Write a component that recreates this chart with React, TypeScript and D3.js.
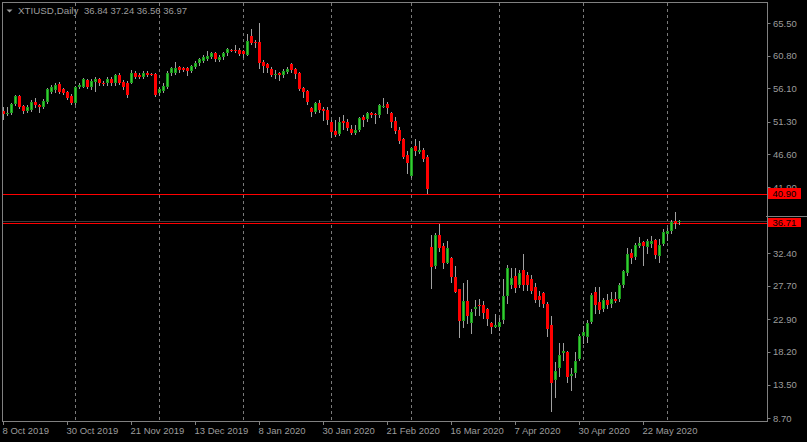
import React from 'react';
import * as d3 from 'd3';

const opens = [52.85,52.37,52.60,53.85,55.01,53.57,52.89,52.99,54.14,53.71,53.38,54.19,55.58,55.87,56.73,55.97,55.58,55.01,53.96,56.34,56.34,57.31,56.26,57.06,57.41,56.92,56.83,57.49,56.83,58.07,57.06,56.90,56.92,58.27,57.98,57.78,58.31,58.17,58.17,55.39,55.77,56.26,58.27,58.36,59.13,58.99,58.99,58.64,59.22,59.71,60.08,60.37,60.66,61.14,60.18,60.57,61.14,61.62,61.62,61.62,61.52,60.90,63.63,62.77,62.77,59.94,59.61,58.84,58.10,58.36,58.02,58.46,59.61,58.84,58.36,56.16,55.72,53.32,52.75,53.96,53.14,52.99,51.31,49.97,49.54,51.41,51.22,50.26,49.64,50.12,52.03,51.65,52.52,52.42,52.23,53.47,53.85,52.60,51.41,50.12,48.82,46.52,43.54,47.81,47.00,47.24,46.23,33.25,30.60,35.02,33.43,31.03,31.75,28.93,27.25,22.69,25.52,22.40,24.33,24.91,24.95,24.33,22.32,21.83,21.74,22.79,26.29,27.83,29.12,27.83,29.98,29.26,28.65,27.58,26.25,26.72,25.09,22.08,14.17,15.93,18.09,18.19,14.74,15.21,17.18,20.49,20.39,22.55,26.86,25.43,24.33,25.67,25.09,25.81,25.81,27.83,29.50,32.38,31.81,33.43,34.05,33.33,33.72,34.30,32.00,33.72,35.16,35.59,37.03,36.84];
const highs = [53.38,53.38,54.04,55.15,55.15,53.71,53.67,54.43,54.67,53.85,54.53,56.11,56.59,56.92,57.06,56.11,55.77,55.29,56.44,56.83,57.55,57.49,57.41,57.69,57.59,57.12,57.78,57.69,58.17,58.27,57.31,57.10,58.74,58.64,58.36,58.56,58.64,58.27,58.27,56.26,56.83,58.64,59.22,59.94,59.32,59.22,59.22,59.46,60.04,60.51,60.86,61.52,61.37,61.33,60.90,61.37,61.91,61.81,62.30,61.86,61.62,63.92,64.64,63.06,65.54,60.18,59.79,59.22,58.74,58.50,58.84,59.13,59.79,58.99,58.50,56.34,55.87,53.47,54.14,54.43,53.47,53.38,51.55,51.55,51.94,52.27,51.65,50.83,50.83,52.03,52.27,52.70,52.75,52.52,53.85,54.76,54.19,52.75,52.03,50.59,48.92,47.14,47.71,48.82,48.53,47.48,46.52,35.02,35.35,36.60,33.91,34.15,31.90,30.56,27.25,28.16,28.55,24.33,25.67,25.77,25.52,24.48,22.55,23.66,23.04,28.65,30.70,30.31,30.23,29.98,32.28,29.74,29.26,28.07,27.01,26.86,25.43,23.37,16.80,19.53,19.44,18.38,15.85,18.24,20.78,21.93,22.79,26.63,27.49,27.49,25.91,26.49,26.78,26.82,28.16,29.98,33.10,32.96,33.91,34.77,34.20,34.40,34.87,34.40,34.40,35.84,35.98,37.17,38.28,37.24];
const lows = [51.74,52.27,52.41,53.67,53.24,52.52,52.70,52.85,53.47,52.75,53.24,53.96,55.39,55.62,55.48,55.29,54.53,53.85,53.85,56.11,56.26,56.11,55.97,55.77,56.54,56.54,56.63,56.54,56.63,56.73,56.01,54.86,56.83,57.55,57.59,57.59,57.88,57.98,55.01,55.19,55.58,56.11,58.02,58.17,58.50,58.56,58.02,58.46,59.03,59.50,59.89,60.18,60.47,60.08,59.99,60.37,60.94,61.43,61.33,60.86,60.66,60.90,62.44,62.01,58.99,58.50,58.50,57.88,57.55,57.31,57.69,58.27,58.50,57.55,55.87,54.82,53.85,52.13,52.52,52.75,51.55,50.98,49.15,49.25,49.40,50.22,50.12,49.54,49.54,50.02,50.69,51.45,52.03,51.17,52.03,53.38,52.60,50.50,49.73,48.29,46.05,43.89,43.40,46.52,46.76,45.70,41.10,27.44,30.31,32.76,30.31,30.95,28.30,26.86,20.39,21.74,22.40,20.88,23.51,23.51,23.04,22.08,20.88,21.74,21.36,22.40,25.28,27.35,26.86,27.58,27.11,27.11,26.63,25.43,24.81,24.62,20.54,9.75,11.68,14.74,17.04,13.92,12.73,14.64,17.04,19.53,19.67,22.32,23.84,23.76,24.13,24.48,24.71,25.38,25.52,27.49,29.26,30.95,31.52,33.33,30.70,32.38,33.33,31.75,31.18,33.58,34.30,35.35,35.98,36.56];
const closes = [52.46,52.52,53.85,55.01,53.47,52.85,53.47,54.19,53.71,53.47,54.33,55.97,56.26,56.63,55.62,55.48,54.67,53.96,56.26,56.59,57.41,56.34,57.21,57.49,56.92,56.73,57.49,56.92,58.07,56.92,56.30,55.15,58.36,57.78,57.78,58.36,58.07,58.07,55.15,55.97,56.44,58.36,58.99,59.07,58.74,58.74,58.60,59.32,59.79,60.28,60.57,60.76,61.14,60.28,60.66,61.14,61.72,61.52,61.52,61.00,61.00,62.91,62.58,62.58,59.71,59.32,58.99,58.02,58.17,58.02,58.64,58.93,58.74,58.17,56.01,55.58,54.19,52.75,53.96,52.99,52.89,51.55,49.87,49.40,51.31,51.08,50.36,49.73,50.12,51.88,51.55,52.52,52.23,52.27,53.71,53.61,53.28,51.31,50.02,48.58,46.28,45.33,47.57,47.14,47.24,45.94,41.63,30.46,35.02,33.19,31.03,33.19,29.02,26.86,22.69,25.52,23.41,23.90,24.71,24.81,23.76,22.94,21.74,22.08,22.55,26.25,30.31,28.79,27.44,29.59,27.83,27.83,26.97,25.67,25.67,25.09,21.45,13.78,15.46,17.76,18.33,14.56,15.03,16.90,20.49,21.07,22.32,26.39,24.95,24.23,25.67,24.95,25.81,25.57,27.83,29.84,32.28,31.75,33.58,33.91,33.43,34.20,34.20,32.14,33.58,35.49,35.59,36.93,36.70,36.97];

const dateLabels = ["8 Oct 2019", "30 Oct 2019", "21 Nov 2019", "13 Dec 2019", "8 Jan 2020", "30 Jan 2020", "21 Feb 2020", "16 Mar 2020", "7 Apr 2020", "30 Apr 2020", "22 May 2020"];
const dateLabelBars = [0, 16, 32, 48, 64, 80, 96, 112, 128, 144, 160];
const monthStartBars = [18, 39, 60, 82, 102, 124, 145, 166];
const priceTicks = [65.5, 60.8, 56.1, 51.3, 46.6, 41.9, 32.4, 27.7, 22.9, 18.2, 13.5, 8.7];
const hLinePrice = 40.9;
const markPrice = 36.71;
const symbolTitle = "XTIUSD,Daily";
const ohlcTitle = "36.84 37.24 36.56 36.97";

const W = 807;
const H = 442;
const FONT = "'Liberation Sans', Arial, sans-serif";
const TXT = "#9c9c9c";

export default function App() {
  const x = d3.scaleLinear().domain([0, 191]).range([3.5, 767.5]);
  const y = d3.scaleLinear().domain([8.7, 65.5]).range([418, 23]);
  const py = (v: number) => Math.round(y(v)) + 0.5;
  const bidPrice = closes[closes.length - 1];

  return (
    <div style={{ position: 'fixed', left: 0, top: 0, width: W, height: H }}>
      <svg width={W} height={H} style={{ display: 'block', background: '#000' }}>
        <rect x={0} y={0} width={W} height={H} fill="#000" />
        {/* month grid */}
        {monthStartBars.map((b) => (
          <line key={'g' + b} x1={x(b)} x2={x(b)} y1={3} y2={421} stroke="#7a7a7a" strokeDasharray="3,3" />
        ))}
        {/* horizontal lines */}
        <line x1={3} x2={767} y1={py(hLinePrice)} y2={py(hLinePrice)} stroke="#ff0000" />
        <line x1={3} x2={767} y1={py(bidPrice)} y2={py(bidPrice)} stroke="#3c3c3c" />
        <line x1={3} x2={767} y1={py(markPrice)} y2={py(markPrice)} stroke="#ff0000" />
        {/* candles */}
        {opens.map((o, i) => {
          const c = closes[i];
          const cx = x(i);
          const top = Math.round(y(Math.max(o, c)));
          const bot = Math.round(y(Math.min(o, c)));
          const h = Math.max(1, bot - top);
          const bull = c >= o;
          return (
            <g key={'c' + i}>
              <line x1={cx} x2={cx} y1={Math.round(y(highs[i]))} y2={Math.round(y(lows[i])) + 1} stroke="#a0a0a0" />
              <rect x={cx - 1.5} y={top} width={3} height={h} fill={bull ? '#1c9c1c' : '#ff0000'} />
              {bull && h > 2 ? <line x1={cx} x2={cx} y1={top + 1} y2={top + h - 1} stroke="#36cc36" /> : null}
            </g>
          );
        })}
        {/* frame */}
        <rect x={2.5} y={2.5} width={765} height={419} fill="none" stroke="#808080" />
        {/* price axis */}
        {priceTicks.map((v) => (
          <g key={'p' + v}>
            <line x1={767.5} x2={770.5} y1={py(v)} y2={py(v)} stroke="#808080" />
            <text x={773} y={y(v) + 3.5} fontFamily={FONT} fontSize={9.5} fill={TXT}>{v.toFixed(2)}</text>
          </g>
        ))}
        {/* date axis */}
        {dateLabelBars.map((b, k) => (
          <g key={'d' + b}>
            <line x1={x(b)} x2={x(b)} y1={421} y2={425} stroke="#808080" />
            <text x={x(b) - 1} y={434} fontFamily={FONT} fontSize={9.5} fill={TXT}>{dateLabels[k]}</text>
          </g>
        ))}
        {/* price labels */}
        <rect x={768} y={188} width={33} height={11} fill="#ff0000" />
        <text x={772.5} y={196.5} fontFamily={FONT} fontSize={9.5} fill="#000">{hLinePrice.toFixed(2)}</text>
        <line x1={766} x2={807} y1={216.5} y2={216.5} stroke="#808080" />
        <rect x={768} y={218} width={33} height={9} fill="#ff0000" />
        <text x={772.5} y={225.5} fontFamily={FONT} fontSize={9.5} fill="#000">{markPrice.toFixed(2)}</text>
        {/* title */}
        <polygon points="6.5,9.5 12.5,9.5 9.5,12.5" fill={TXT} />
        <text x={18} y={14} fontFamily={FONT} fontSize={9.8} fill={TXT}>{symbolTitle}</text>
        <text x={84} y={14} fontFamily={FONT} fontSize={9.5} fill={TXT}>{ohlcTitle}</text>
      </svg>
    </div>
  );
}
